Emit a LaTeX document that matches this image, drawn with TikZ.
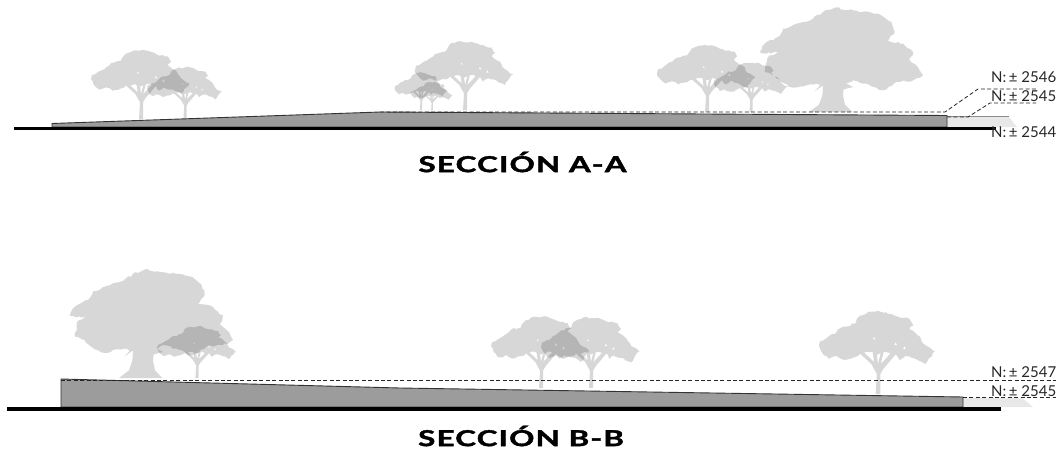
\documentclass[tikz,border=0pt]{standalone}
\usepackage{graphicx}
\usepackage{fontspec}
\setmainfont{Lato}
\newfontfamily\titlefont[LetterSpace=4,BoldFeatures={FakeBold=1.6}]{Lato}
\newcommand{\sectext}[1]{\scalebox{1.42}[1]{\titlefont\bfseries\fontsize{22}{24}\selectfont #1}}
\usetikzlibrary{decorations.pathmorphing}
\tikzset{
  x=1pt,y=-1pt,
  treefill/.style={fill=black,fill opacity=.155},
  leafy/.style={decoration={random steps,segment length=3.2pt,amplitude=1.1pt}},
  slab/.style={fill=black!39,draw=black!80,line width=.9pt,line join=miter},
  ground/.style={line width=3.4pt,black},
  level/.style={dash pattern=on 4pt off 2.4pt,line width=.8pt,black!85},
  hatchzone/.style={fill=black!9},
  lvl/.style={font=\fontsize{15}{16}\selectfont,anchor=west,inner sep=0pt,black!85,text height=9.5pt,text depth=0pt},
  sectitle/.style={inner sep=0pt,black}
}
% acacia silhouette: coordinates are 3x pixels relative to the foot of the trunk
\newcommand{\acacia}[4]{%
  \begin{scope}[shift={(#1,#2)},xscale=#3/3,yscale=#4/3]
  \fill[treefill,leafy]
    decorate{(-147,-132) -- (-130,-140) -- (-105,-155) -- (-90,-168) -- (-60,-175) -- (-47,-195) -- (-25,-205) -- (20,-205) -- (45,-195) -- (80,-188) -- (90,-172) -- (80,-162) -- (105,-145) -- (120,-122) -- (145,-107) -- (130,-90) -- (120,-75) -- (95,-88) -- (70,-95) -- (55,-85) -- (45,-100) -- (20,-105) -- (0,-98) -- (-20,-105) -- (-45,-100) -- (-60,-92) -- (-85,-85) -- (-105,-95) -- (-125,-88) -- (-143,-105) -- (-150,-120) -- cycle}
    (-6,0) -- (-3,-50) -- (-17,-75) -- (-50,-105) -- (-40,-108) -- (-10,-80) -- (-15,-115) -- (-5,-115) -- (0,-75) -- (10,-115) -- (17,-115) -- (7,-75) -- (40,-110) -- (50,-105) -- (13,-62) -- (6,-50) -- (6,0) -- cycle
    (45,-130) -- (41,-123) -- (49,-121) -- cycle
    (68,-120) -- (63,-113) -- (71,-111) -- cycle
    (-10,-143) -- (-13,-137) -- (-6,-136) -- cycle;
  \end{scope}}
% spreading tree silhouette: same convention
\newcommand{\oak}[4]{%
  \begin{scope}[shift={(#1,#2)},xscale=#3/3,yscale=#4/3]
  \fill[treefill,leafy]
    decorate{(-220,-180) -- (-205,-205) -- (-165,-225) -- (-150,-250) -- (-110,-265) -- (-60,-280) -- (-30,-300) -- (5,-313) -- (60,-305) -- (110,-300) -- (140,-293) -- (175,-270) -- (185,-240) -- (165,-213) -- (210,-205) -- (240,-180) -- (230,-155) -- (255,-135) -- (270,-110) -- (240,-95) -- (190,-90) -- (150,-65) -- (100,-85) -- (60,-95) -- (30,-78) -- (-30,-78) -- (-50,-85) -- (-120,-73) -- (-155,-90) -- (-175,-110) -- (-205,-120) -- (-195,-165) -- (-165,-180) -- (-200,-175) -- cycle}
    (-72,0) -- (-42,-22) -- (-32,-50) -- (-30,-80) -- (-55,-62) -- (-30,-90) -- (30,-90) -- (60,-75) -- (32,-68) -- (30,-50) -- (36,-22) -- (58,0) -- cycle;
  \end{scope}}
\begin{document}
\begin{tikzpicture}
\useasboundingbox (0,0) rectangle (1061,450);
% ---- section A-A: trees
\acacia{141}{119}{1}{1.0}
\acacia{185}{118}{.76}{.74}
\acacia{465}{110}{1}{1}
\acacia{421}{110}{.53}{.54}
\acacia{432}{110}{.42}{.41}
\oak{833}{112}{1}{1}
\acacia{707}{112}{1}{.97}
\acacia{751}{112}{.75}{.72}
% ---- section A-A: ground and terrain
\path[hatchzone] (947,117) -- (1009,117) -- (1017,127) -- (947,127) -- cycle;
\draw[black!45,line width=.8pt] (947,116.5) -- (1009,116.5);
\draw[slab] (52,123.5) -- (380,112) -- (947,115.5) -- (947,127) -- (52,127) -- cycle;
\draw[ground] (14,128.5) -- (996,128.5);
\coordinate (a1) at (380,112);
\coordinate (a2) at (945,112);
\coordinate (a3) at (978,89);
\coordinate (a4) at (1037,89);
\coordinate (a5) at (947,117);
\coordinate (a6) at (968,117);
\coordinate (a7) at (990,103);
\coordinate (a8) at (1036,103);
\draw[level] (a1) -- (a2) -- (a3) -- (a4);
\draw[level] (a5) -- (a6) -- (a7) -- (a8);
\node[lvl] (la) at (991,78) {N:\,± 2546};
\node[lvl] (lb) at (991,97) {N:\,± 2545};
\node[lvl] (lc) at (991,133) {N:\,± 2544};
\node[sectitle] (ta) at (522.5,162) {\sectext{SECCIÓN A-A}};
% ---- section B-B: trees
\oak{143}{378}{1}{1.04}
\acacia{197}{378}{.8}{.75}
\acacia{541}{388}{1}{1.04}
\acacia{591}{388}{1}{1.03}
\acacia{878}{394}{1.18}{1.2}
% ---- section B-B: ground and terrain
\path[hatchzone] (963,398) -- (1022,398) -- (1033,407) -- (963,407) -- cycle;
\draw[slab] (61,379) -- (400,388) -- (963,397) -- (963,407) -- (61,407) -- cycle;
\draw[ground] (7,408.8) -- (1001,408.8);
\coordinate (b1) at (61,380);
\coordinate (b2) at (1056,380);
\coordinate (b3) at (963,397.5);
\coordinate (b4) at (1056,397.5);
\draw[level] (b1) -- (b2);
\draw[level] (b3) -- (b4);
\node[lvl] (ld) at (991,373) {N:\,± 2547};
\node[lvl] (le) at (991,392) {N:\,± 2545};
\node[sectitle] (tb) at (521,436) {\sectext{SECCIÓN B-B}};
\end{tikzpicture}
\end{document}
